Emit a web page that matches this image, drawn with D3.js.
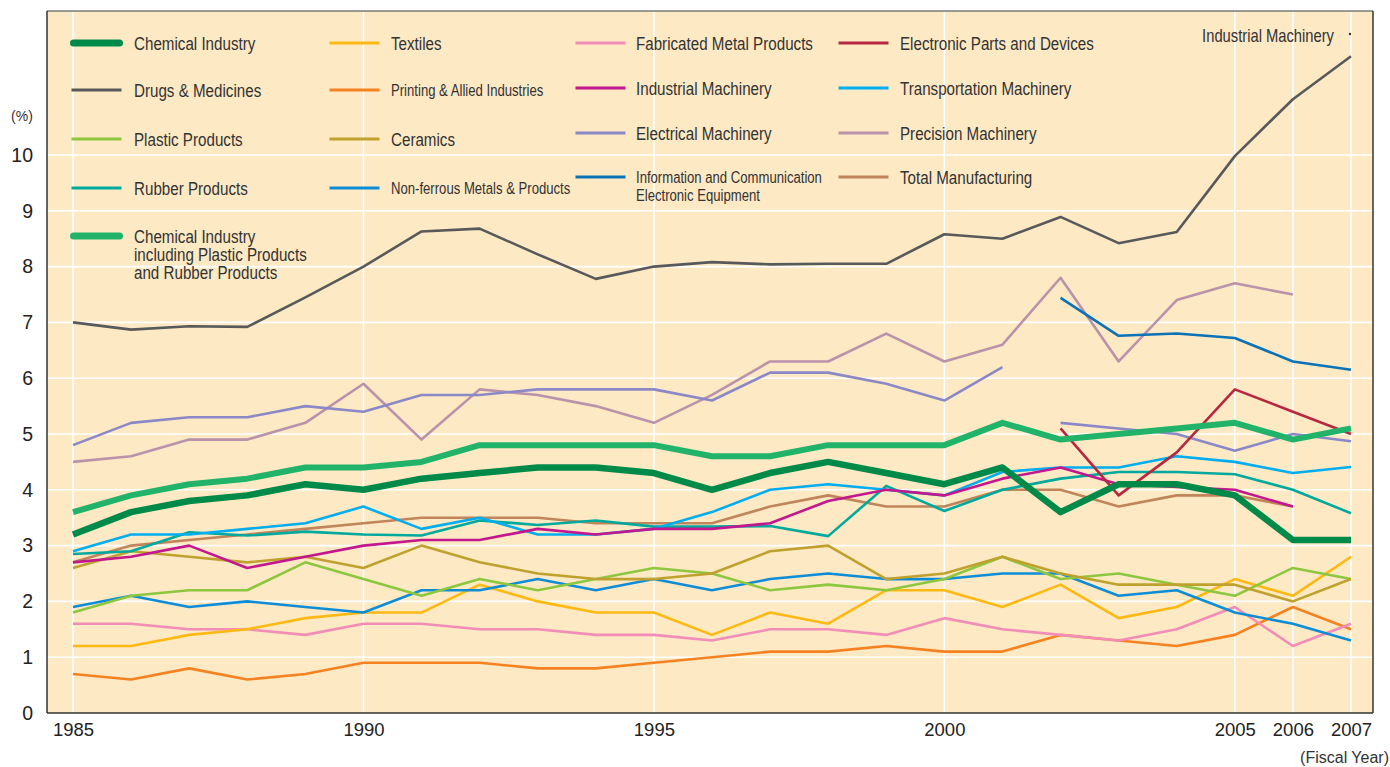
<!DOCTYPE html>
<html>
<head>
<meta charset="utf-8">
<script src="https://cdn.jsdelivr.net/npm/d3@7"></script>
<style>
  body { margin: 0; background: #fff; }
  svg { display: block; }
  .tick text { fill: #222; }
</style>
</head>
<body>
<div id="chart"></div>
<script>
// fiscal years on the x axis
const years = [1985, 1986, 1987, 1988, 1989, 1990, 1991, 1992, 1993, 1994, 1995, 1996,
               1997, 1998, 1999, 2000, 2001, 2002, 2003, 2004, 2005, 2006, 2007];
const xTickYears = [1985, 1990, 1995, 2000, 2005, 2006, 2007];
const yTicks = [0, 1, 2, 3, 4, 5, 6, 7, 8, 9, 10];

// values in %, null = no data
const chemicalIndustry = [3.2, 3.6, 3.8, 3.9, 4.1, 4.0, 4.2, 4.3, 4.4, 4.4, 4.3, 4.0, 4.3, 4.5, 4.3, 4.1, 4.4, 3.6, 4.1, 4.1, 3.9, 3.1, 3.1];
const drugsMedicines   = [7.0, 6.87, 6.93, 6.92, 7.45, 8.0, 8.63, 8.68, 8.22, 7.78, 8.0, 8.08, 8.04, 8.05, 8.05, 8.58, 8.5, 8.89, 8.42, 8.62, 9.98, 11.0, 11.77];
const plasticProducts  = [1.8, 2.1, 2.2, 2.2, 2.7, 2.4, 2.1, 2.4, 2.2, 2.4, 2.6, 2.5, 2.2, 2.3, 2.2, 2.4, 2.8, 2.4, 2.5, 2.3, 2.1, 2.6, 2.4];
const rubberProducts   = [2.85, 2.9, 3.24, 3.18, 3.25, 3.2, 3.18, 3.45, 3.37, 3.45, 3.34, 3.34, 3.35, 3.17, 4.07, 3.62, 4.0, 4.2, 4.32, 4.32, 4.28, 4.0, 3.58];
const chemicalInclPR   = [3.6, 3.9, 4.1, 4.2, 4.4, 4.4, 4.5, 4.8, 4.8, 4.8, 4.8, 4.6, 4.6, 4.8, 4.8, 4.8, 5.2, 4.9, 5.0, 5.1, 5.2, 4.9, 5.1];
const textiles         = [1.2, 1.2, 1.4, 1.5, 1.7, 1.8, 1.8, 2.3, 2.0, 1.8, 1.8, 1.4, 1.8, 1.6, 2.2, 2.2, 1.9, 2.3, 1.7, 1.9, 2.4, 2.1, 2.8];
const printingAllied   = [0.7, 0.6, 0.8, 0.6, 0.7, 0.9, 0.9, 0.9, 0.8, 0.8, 0.9, 1.0, 1.1, 1.1, 1.2, 1.1, 1.1, 1.4, 1.3, 1.2, 1.4, 1.9, 1.5];
const ceramics         = [2.6, 2.9, 2.8, 2.7, 2.8, 2.6, 3.0, 2.7, 2.5, 2.4, 2.4, 2.5, 2.9, 3.0, 2.4, 2.5, 2.8, 2.5, 2.3, 2.3, 2.3, 2.0, 2.4];
const nonFerrous       = [1.9, 2.1, 1.9, 2.0, 1.9, 1.8, 2.2, 2.2, 2.4, 2.2, 2.4, 2.2, 2.4, 2.5, 2.4, 2.4, 2.5, 2.5, 2.1, 2.2, 1.8, 1.6, 1.3];
const fabricatedMetal  = [1.6, 1.6, 1.5, 1.5, 1.4, 1.6, 1.6, 1.5, 1.5, 1.4, 1.4, 1.3, 1.5, 1.5, 1.4, 1.7, 1.5, 1.4, 1.3, 1.5, 1.9, 1.2, 1.6];
const industrialMach   = [2.7, 2.8, 3.0, 2.6, 2.8, 3.0, 3.1, 3.1, 3.3, 3.2, 3.3, 3.3, 3.4, 3.8, 4.0, 3.9, 4.2, 4.4, 4.1, 4.05, 4.0, 3.7, null];
const electricalOld    = [4.8, 5.2, 5.3, 5.3, 5.5, 5.4, 5.7, 5.7, 5.8, 5.8, 5.8, 5.6, 6.1, 6.1, 5.9, 5.6, 6.2, null, null, null, null, null, null];
const electricalNew    = [null, null, null, null, null, null, null, null, null, null, null, null, null, null, null, null, null, 5.2, 5.1, 5.0, 4.7, 5.0, 4.87];
const infoComm         = [null, null, null, null, null, null, null, null, null, null, null, null, null, null, null, null, null, 7.44, 6.76, 6.8, 6.72, 6.3, 6.15];
const electronicParts  = [null, null, null, null, null, null, null, null, null, null, null, null, null, null, null, null, null, 5.1, 3.9, 4.67, 5.8, 5.4, 5.0];
const transportMach    = [2.9, 3.2, 3.2, 3.3, 3.4, 3.7, 3.3, 3.5, 3.2, 3.2, 3.3, 3.6, 4.0, 4.1, 4.0, 3.9, 4.32, 4.4, 4.4, 4.6, 4.5, 4.3, 4.41];
const precisionMach    = [4.5, 4.6, 4.9, 4.9, 5.2, 5.9, 4.9, 5.8, 5.7, 5.5, 5.2, 5.7, 6.3, 6.3, 6.8, 6.3, 6.6, 7.8, 6.3, 7.4, 7.7, 7.5, null];
const totalManuf       = [2.7, 3.0, 3.1, 3.2, 3.3, 3.4, 3.5, 3.5, 3.5, 3.4, 3.4, 3.4, 3.7, 3.9, 3.7, 3.7, 4.0, 4.0, 3.7, 3.9, 3.9, 3.7, null];

// draw order: first = bottom
const series = [
  { values: precisionMach,   color: "#ba93ab", w: 2.6 },
  { values: electricalOld,   color: "#8b88c7", w: 2.6 },
  { values: electricalNew,   color: "#8b88c7", w: 2.6 },
  { values: drugsMedicines,  color: "#58595b", w: 2.6 },
  { values: infoComm,        color: "#0b72b6", w: 2.6 },
  { values: printingAllied,  color: "#f58220", w: 2.6 },
  { values: fabricatedMetal, color: "#f28db7", w: 2.6 },
  { values: textiles,        color: "#fdb913", w: 2.6 },
  { values: nonFerrous,      color: "#0e8dd6", w: 2.6 },
  { values: plasticProducts, color: "#8dc63f", w: 2.6 },
  { values: ceramics,        color: "#bfa12e", w: 2.6 },
  { values: totalManuf,      color: "#c0855a", w: 2.6 },
  { values: rubberProducts,  color: "#00a99d", w: 2.6 },
  { values: transportMach,   color: "#00aeef", w: 2.6 },
  { values: industrialMach,  color: "#c2178d", w: 2.6 },
  { values: electronicParts, color: "#b5283f", w: 2.6 },
  { values: chemicalInclPR,  color: "#22b36b", w: 6 },
  { values: chemicalIndustry,color: "#008a4a", w: 6.5 }
];

const legendItems = [
  { col: 0, row: 0, label: ["Chemical Industry"], color: "#008a4a", w: 7 },
  { col: 0, row: 1, label: ["Drugs & Medicines"], color: "#58595b", w: 3 },
  { col: 0, row: 2, label: ["Plastic Products"], color: "#8dc63f", w: 3 },
  { col: 0, row: 3, label: ["Rubber Products"], color: "#00a99d", w: 3 },
  { col: 0, row: 4, label: ["Chemical Industry", "including Plastic Products", "and Rubber Products"], color: "#22b36b", w: 7 },
  { col: 1, row: 0, label: ["Textiles"], color: "#fdb913", w: 3 },
  { col: 1, row: 1, label: ["Printing & Allied Industries"], color: "#f58220", w: 3, small: true },
  { col: 1, row: 2, label: ["Ceramics"], color: "#bfa12e", w: 3 },
  { col: 1, row: 3, label: ["Non-ferrous Metals & Products"], color: "#0e8dd6", w: 3, small: true },
  { col: 2, row: 0, label: ["Fabricated Metal Products"], color: "#f28db7", w: 3 },
  { col: 2, row: 1, label: ["Industrial Machinery"], color: "#c2178d", w: 3 },
  { col: 2, row: 2, label: ["Electrical Machinery"], color: "#8b88c7", w: 3 },
  { col: 2, row: 3, label: ["Information and Communication", "Electronic Equipment"], color: "#0b72b6", w: 3, small: true },
  { col: 3, row: 0, label: ["Electronic Parts and Devices"], color: "#b5283f", w: 3 },
  { col: 3, row: 1, label: ["Transportation Machinery"], color: "#00aeef", w: 3 },
  { col: 3, row: 2, label: ["Precision Machinery"], color: "#ba93ab", w: 3 },
  { col: 3, row: 3, label: ["Total Manufacturing"], color: "#c0855a", w: 3 }
];

const W = 1390, H = 767;
const plot = { left: 47, right: 1373, top: 11, bottom: 713 };
const regular = "'Liberation Sans', Arial, sans-serif";
const squeeze = 0.82; // fake a condensed face

const svg = d3.select("#chart").append("svg")
    .attr("width", W)
    .attr("height", H);

const x = d3.scaleLinear().domain([1985, 2007]).range([73, 1351]);
const y = d3.scaleLinear().domain([0, 10]).range([plot.bottom, 155]);

// plot background
svg.append("rect")
    .attr("x", plot.left).attr("y", plot.top)
    .attr("width", plot.right - plot.left)
    .attr("height", plot.bottom - plot.top)
    .attr("fill", "#fde9c4");

// grid
svg.append("g").selectAll("line")
    .data(yTicks.slice(1))
    .enter().append("line")
    .attr("x1", plot.left).attr("x2", plot.right)
    .attr("y1", d => y(d)).attr("y2", d => y(d))
    .attr("stroke", "#fff").attr("stroke-width", 1.6);

svg.append("g").selectAll("line")
    .data(xTickYears)
    .enter().append("line")
    .attr("x1", d => x(d)).attr("x2", d => x(d))
    .attr("y1", plot.top).attr("y2", plot.bottom)
    .attr("stroke", "#fff").attr("stroke-width", 1.6);

// axes (labels only, frame drawn below)
svg.append("g")
    .attr("transform", `translate(0,${plot.bottom})`)
    .call(d3.axisBottom(x).tickValues(xTickYears).tickFormat(d3.format("d")).tickSize(0).tickPadding(10))
    .call(g => g.select(".domain").remove())
    .selectAll("text")
    .style("font-family", regular)
    .style("font-size", "18.5px");

svg.append("g")
    .attr("transform", `translate(${plot.left},0)`)
    .call(d3.axisLeft(y).tickValues(yTicks).tickSize(0).tickPadding(14))
    .call(g => g.select(".domain").remove())
    .selectAll("text")
    .style("font-family", regular)
    .style("font-size", "19.5px");

svg.append("text")
    .attr("x", 22).attr("y", 121)
    .attr("text-anchor", "middle")
    .style("font-family", regular).style("font-size", "14px").style("fill", "#333")
    .text("(%)");

svg.append("text")
    .attr("x", 1389).attr("y", 763)
    .attr("text-anchor", "end")
    .style("font-family", regular).style("font-size", "16px").style("fill", "#333")
    .text("(Fiscal Year)");

// lines
const line = d3.line()
    .defined(d => d.v != null)
    .x(d => x(d.year))
    .y(d => y(d.v));

svg.append("g").selectAll("path")
    .data(series)
    .enter().append("path")
    .attr("d", s => line(years.map((yr, i) => ({ year: yr, v: s.values[i] }))))
    .attr("fill", "none")
    .attr("stroke", s => s.color)
    .attr("stroke-width", s => s.w)
    .attr("stroke-linejoin", "round");

// frame
svg.append("line").attr("x1", plot.left).attr("x2", plot.right).attr("y1", plot.top).attr("y2", plot.top)
    .attr("stroke", "#7a7a7a").attr("stroke-width", 1.5);
svg.append("line").attr("x1", plot.left).attr("x2", plot.left).attr("y1", plot.top).attr("y2", plot.bottom)
    .attr("stroke", "#333").attr("stroke-width", 1.5);
svg.append("line").attr("x1", plot.right).attr("x2", plot.right).attr("y1", plot.top).attr("y2", plot.bottom)
    .attr("stroke", "#333").attr("stroke-width", 1.5);
svg.append("line").attr("x1", plot.left).attr("x2", plot.right).attr("y1", plot.bottom).attr("y2", plot.bottom)
    .attr("stroke", "#333").attr("stroke-width", 1.5);

// condensed text helper
function narrowText(g, tx, ty, lines, fs, anchor) {
    const t = g.append("text")
        .attr("transform", `translate(${tx},${ty}) scale(${squeeze},1)`)
        .attr("text-anchor", anchor || "start")
        .style("font-family", regular)
        .style("font-size", fs + "px")
        .style("fill", "#333");
    lines.forEach((s, k) => {
        t.append("tspan").attr("x", 0).attr("y", k * 18).text(s);
    });
    return t;
}

// legend
const colSwatch = [70, 328, 574, 837];
const colText = [134, 391, 636, 900];
const rowsLeft = [43, 90, 139, 188, 236];
const rowsRight = [43, 88, 133, 177];

const legend = svg.append("g");
legendItems.forEach(it => {
    const cy = (it.col < 2 ? rowsLeft : rowsRight)[it.row];
    legend.append("line")
        .attr("x1", colSwatch[it.col] + it.w / 2).attr("x2", colSwatch[it.col] + 53 - it.w / 2)
        .attr("y1", cy).attr("y2", cy)
        .attr("stroke", it.color).attr("stroke-width", it.w)
        .attr("stroke-linecap", it.w > 5 ? "round" : "butt");
    const fs = it.small ? 16 : 18.5;
    narrowText(legend, colText[it.col], cy + fs * 0.36, it.label, fs);
});

// stray label in top-right corner
narrowText(svg, 1334, 36 + 18 * 0.36, ["Industrial Machinery"], 18, "end");
svg.append("circle").attr("cx", 1350).attr("cy", 34).attr("r", 1.2).attr("fill", "#333");
</script>
</body>
</html>
